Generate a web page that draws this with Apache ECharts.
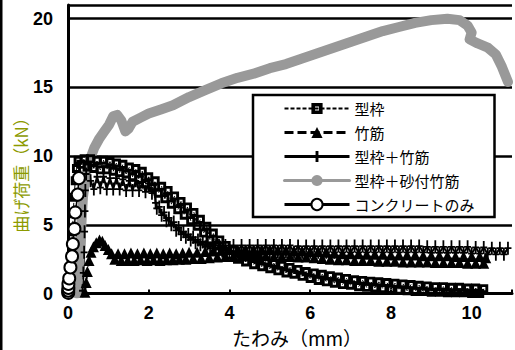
<!DOCTYPE html>
<html>
<head>
<meta charset="utf-8">
<script src="https://cdn.jsdelivr.net/npm/echarts@6.0.0/dist/echarts.min.js"></script>
<style>
  html, body { margin: 0; padding: 0; background: #fff; }
  #chart { width: 515px; height: 350px; }
</style>
</head>
<body>
<div id="chart"></div>
<script>
// Load–deflection curves of bending tests, [deflection (mm), load (kN)]
const seriesNames = ['型枠', '竹筋', '型枠＋竹筋', '型枠＋砂付竹筋', 'コンクリートのみ'];

const katawaku = [
  [0.03,0.2],[0.05,1.0],[0.07,2.0],[0.09,3.2],[0.11,4.5],[0.13,5.8],[0.15,7.0],[0.18,8.2],[0.21,9.1],[0.25,9.7],
  [0.32,9.4],[0.4,9.8],[0.48,9.2],[0.56,9.8],[0.64,9.1],[0.72,9.7],[0.8,9.0],[0.88,9.7],[0.96,9.0],[1.04,9.6],
  [1.12,8.9],[1.2,9.5],[1.28,8.8],[1.36,9.4],[1.44,8.7],[1.52,9.2],[1.6,8.5],[1.68,9.1],[1.76,8.3],[1.84,8.9],
  [1.92,8.0],[2.0,8.5],[2.08,7.7],[2.16,8.2],[2.24,7.3],[2.32,7.8],[2.4,6.9],[2.48,7.5],[2.56,6.5],[2.64,7.1],
  [2.72,6.1],[2.8,6.7],[2.88,5.7],[2.96,6.3],[3.04,5.3],[3.12,5.9],[3.2,4.9],[3.28,5.4],[3.36,4.4],[3.44,4.9],
  [3.52,3.9],[3.6,4.4],[3.68,3.5],[3.76,3.9],[3.84,3.1],[3.92,3.5],[4.0,2.8],[4.1,3.2],[4.2,2.5],[4.3,2.9],
  [4.4,2.3],[4.5,2.7],[4.6,2.1],[4.7,2.5],[4.8,1.95],[4.9,2.35],[5.0,1.8],[5.1,2.2],[5.2,1.65],[5.3,2.05],
  [5.4,1.5],[5.5,1.9],[5.6,1.4],[5.7,1.75],[5.8,1.25],[5.9,1.6],[6.0,1.1],[6.1,1.5],[6.2,0.95],[6.3,1.4],
  [6.4,0.85],[6.5,1.3],[6.6,0.75],[6.7,1.2],[6.8,0.65],[6.9,1.1],[7.0,0.6],[7.1,1.0],[7.2,0.5],[7.3,0.95],
  [7.4,0.45],[7.5,0.9],[7.6,0.4],[7.7,0.85],[7.8,0.35],[7.9,0.8],[8.0,0.3],[8.1,0.75],[8.2,0.25],[8.3,0.7],
  [8.4,0.2],[8.5,0.65],[8.6,0.15],[8.7,0.6],[8.8,0.15],[8.9,0.55],[9.0,0.1],[9.1,0.5],[9.2,0.1],[9.3,0.5],
  [9.4,0.05],[9.5,0.45],[9.6,0.05],[9.7,0.45],[9.8,0.05],[9.9,0.4],[10.0,0.0],[10.1,0.4],[10.2,0.0],[10.3,0.35]
];

const takekin = [
  [0.42,0.1],[0.45,0.8],[0.48,1.6],[0.52,2.4],[0.57,3.0],[0.63,3.4],[0.7,3.7],[0.78,3.9],[0.85,3.8],[0.92,3.5],
  [1.0,3.2],[1.08,2.9],[1.16,2.5],[1.24,2.9],[1.32,2.4],[1.4,2.9],[1.48,2.4],[1.56,2.95],[1.64,2.4],[1.72,2.9],
  [1.8,2.45],[1.88,2.95],[1.96,2.4],[2.04,2.9],[2.12,2.45],[2.2,2.95],[2.28,2.4],[2.36,2.9],[2.44,2.45],[2.52,2.95],
  [2.6,2.45],[2.68,2.9],[2.76,2.5],[2.84,2.95],[2.92,2.5],[3.0,3.0],[3.1,2.55],[3.2,3.0],[3.3,2.55],[3.4,3.05],
  [3.5,2.6],[3.6,3.1],[3.7,2.65],[3.8,3.15],[3.9,2.7],[4.0,3.2],[4.1,2.7],[4.2,3.2],[4.3,2.75],[4.4,3.2],
  [4.5,2.75],[4.6,3.2],[4.7,2.75],[4.8,3.2],[4.9,2.75],[5.0,3.2],[5.1,2.7],[5.2,3.15],[5.3,2.7],[5.4,3.15],
  [5.5,2.7],[5.6,3.1],[5.7,2.65],[5.8,3.1],[5.9,2.65],[6.0,3.05],[6.1,2.6],[6.2,3.05],[6.3,2.55],[6.4,3.0],
  [6.5,2.5],[6.6,2.95],[6.7,2.45],[6.8,2.9],[6.9,2.45],[7.0,2.9],[7.1,2.4],[7.2,2.9],[7.3,2.4],[7.4,2.85],
  [7.5,2.4],[7.6,2.85],[7.7,2.35],[7.8,2.85],[7.9,2.35],[8.0,2.8],[8.1,2.35],[8.2,2.8],[8.3,2.3],[8.4,2.8],
  [8.5,2.3],[8.6,2.8],[8.7,2.3],[8.8,2.75],[8.9,2.3],[9.0,2.75],[9.1,2.25],[9.2,2.75],[9.3,2.25],[9.4,2.75],
  [9.5,2.25],[9.6,2.7],[9.7,2.25],[9.8,2.7],[9.9,2.2],[10.0,2.7],[10.1,2.2],[10.2,2.7],[10.3,2.2],[10.35,2.6]
];

const katawakuTakekin = [
  [0.36,0.2],[0.38,1.5],[0.4,3.0],[0.41,4.5],[0.42,6.0],[0.43,7.5],[0.45,8.7],[0.5,9.5],
  [0.56,8.2],[0.64,7.6],[0.72,8.5],[0.8,7.7],[0.88,8.5],[0.96,7.6],[1.04,8.4],[1.12,7.6],[1.2,8.4],[1.28,7.6],
  [1.36,8.3],[1.44,7.5],[1.52,8.2],[1.6,7.5],[1.68,8.2],[1.76,7.5],[1.84,8.1],[1.92,7.4],[2.0,8.0],[2.08,7.3],
  [2.14,7.6],[2.17,6.6],[2.2,6.2],[2.26,6.3],[2.32,5.7],[2.38,5.9],[2.44,5.3],[2.5,5.5],[2.56,5.0],[2.62,5.2],
  [2.68,4.6],[2.74,4.8],[2.8,4.3],[2.86,4.5],[2.92,4.1],[2.98,4.3],[3.04,3.9],[3.1,4.1],[3.16,3.7],[3.22,3.9],
  [3.28,3.55],[3.34,3.75],[3.4,3.4],[3.46,3.6],[3.52,3.3],[3.58,3.55],[3.66,3.2],[3.74,3.5],[3.82,3.1],[3.9,3.5],
  [4.0,3.1],[4.1,3.5],[4.2,3.05],[4.3,3.5],[4.4,3.05],[4.5,3.5],[4.6,3.05],[4.7,3.5],[4.8,3.05],[4.9,3.5],
  [5.0,3.05],[5.1,3.5],[5.2,3.05],[5.3,3.5],[5.4,3.05],[5.5,3.5],[5.6,3.0],[5.7,3.45],[5.8,3.0],[5.9,3.45],
  [6.0,3.0],[6.1,3.45],[6.2,3.0],[6.3,3.45],[6.4,3.0],[6.5,3.45],[6.6,3.0],[6.7,3.45],[6.8,3.0],[6.9,3.45],
  [7.0,3.0],[7.1,3.45],[7.2,3.0],[7.3,3.45],[7.4,3.0],[7.5,3.45],[7.6,3.0],[7.7,3.45],[7.8,3.0],[7.9,3.45],
  [8.0,3.0],[8.1,3.45],[8.2,3.0],[8.3,3.45],[8.4,3.0],[8.5,3.45],[8.6,3.0],[8.7,3.45],[8.8,3.0],[8.9,3.4],
  [9.0,2.95],[9.1,3.4],[9.2,2.95],[9.3,3.4],[9.4,2.95],[9.5,3.4],[9.6,2.95],[9.7,3.4],[9.8,2.95],[9.9,3.4],
  [10.0,2.9],[10.1,3.35],[10.2,2.9],[10.3,3.35],[10.4,2.85],[10.5,3.3],[10.6,2.85],[10.7,3.3],[10.8,2.85],[10.9,3.3]
];

const katawakuSunaTakekin = [
  [0.22,0],[0.27,2.0],[0.32,4.5],[0.37,7.0],[0.45,8.8],[0.55,9.8],[0.65,10.6],[0.78,11.3],[0.9,11.8],[1.02,12.3],
  [1.12,12.9],[1.22,13.0],[1.32,12.6],[1.42,11.8],[1.5,12.0],[1.6,12.5],[1.8,12.8],[2.0,13.1],[2.3,13.4],[2.6,13.7],
  [3.0,14.3],[3.4,14.8],[3.8,15.3],[4.2,15.7],[4.6,16.0],[5.0,16.4],[5.4,16.7],[5.8,17.1],[6.2,17.5],[6.6,17.9],
  [7.0,18.3],[7.4,18.7],[7.8,19.1],[8.2,19.4],[8.6,19.7],[9.0,19.9],[9.4,20.0],[9.7,19.9],[9.9,19.5],[10.0,19.0],
  [9.95,18.5],[10.15,18.2],[10.4,17.9],[10.6,17.4],[10.75,16.5],[10.9,15.4]
];

const concreteOnly = [
  [0.005,0.05],[0.005,0.2],[0.01,0.4],[0.01,0.7],[0.03,1.1],[0.06,1.9],[0.1,2.7],[0.12,3.6],
  [0.16,4.7],[0.18,5.9],[0.24,7.2],[0.27,8.4]
];

const xRange = { min: 0, max: 11, interval: 2 };
const yRange = { min: 0, max: 21, interval: 5 };

// thick-rimmed hollow square and a tall plus for the dense marker bands
const squarePath = 'path://M0,0H9V9H0Z M2.9,2.9V6.1H6.1V2.9Z';
const plusPath = 'path://M2.6,0H4.4V13H2.6Z M0,5.6H7V7.4H0Z';
const tickFont = { fontFamily: '"Liberation Sans", Arial, sans-serif', fontWeight: 'bold', fontSize: 18, color: '#000' };

const chart = echarts.init(document.getElementById('chart'), null, { renderer: 'svg' });

chart.setOption({
  animation: false,
  backgroundColor: '#fff',
  grid: { left: 68, top: 5, width: 453, height: 288.5 },
  xAxis: {
    type: 'value',
    min: xRange.min, max: xRange.max, interval: xRange.interval,
    axisLine: { lineStyle: { color: '#000', width: 3 } },
    axisTick: { show: true, inside: true, length: 4, lineStyle: { color: '#000', width: 2 } },
    axisLabel: Object.assign({ margin: 10, formatter: v => (v % 2 === 0 ? String(v) : '') }, tickFont),
    splitLine: { show: false }
  },
  yAxis: {
    type: 'value',
    min: yRange.min, max: yRange.max, interval: yRange.interval,
    axisLine: { show: true, lineStyle: { color: '#000', width: 3 } },
    axisTick: { show: false },
    axisLabel: Object.assign({ margin: 15, formatter: v => (v % 5 === 0 ? String(v) : '') }, tickFont),
    splitLine: { show: true, lineStyle: { color: '#000', width: 2.5 } }
  },
  legend: {
    orient: 'vertical',
    left: 253, top: 95,
    padding: [6, 20, 5, 30],
    itemWidth: 65, itemHeight: 14, itemGap: 9,
    backgroundColor: '#fff',
    borderColor: '#000', borderWidth: 2.5, borderRadius: 0,
    selectedMode: false,
    textStyle: { fontFamily: '"Noto Sans CJK JP", sans-serif', fontSize: 15, lineHeight: 14, color: '#000' },
    data: [
      { name: seriesNames[0], lineStyle: { width: 2 } },
      { name: seriesNames[1], lineStyle: { width: 3 } },
      { name: seriesNames[2], lineStyle: { width: 3 } },
      { name: seriesNames[3], lineStyle: { width: 3 } },
      { name: seriesNames[4], lineStyle: { width: 3 } }
    ]
  },
  graphic: [
    { type: 'rect', shape: { x: 0, y: 0, width: 2.5, height: 350 }, style: { fill: '#000' } },
    {
      type: 'text', x: 20, y: 171, rotation: Math.PI / 2,
      style: { text: '曲げ荷重（kN）', fill: '#8c9a00', fontSize: 17,
               fontFamily: '"Noto Sans CJK JP", sans-serif', align: 'center', verticalAlign: 'middle' }
    },
    {
      type: 'text', x: 297, y: 337,
      style: { text: 'たわみ（mm）', fill: '#000', fontSize: 19,
               fontFamily: '"Noto Sans CJK JP", sans-serif', align: 'center', verticalAlign: 'middle' }
    }
  ],
  series: [
    {
      name: seriesNames[0], type: 'line', data: katawaku,
      symbol: squarePath, symbolSize: 9,
      itemStyle: { color: '#000' },
      lineStyle: { color: '#000', width: 1, type: [4, 2] }
    },
    {
      name: seriesNames[1], type: 'line', data: takekin,
      symbol: 'triangle', symbolSize: 11,
      itemStyle: { color: '#000' },
      lineStyle: { color: '#000', width: 2, type: [9, 4] }
    },
    {
      name: seriesNames[2], type: 'line', data: katawakuTakekin,
      symbol: plusPath, symbolSize: [7, 13],
      itemStyle: { color: '#000' },
      lineStyle: { color: '#000', width: 2 }
    },
    {
      name: seriesNames[3], type: 'line', data: katawakuSunaTakekin,
      symbol: 'none', showSymbol: false,
      itemStyle: { color: '#999' },
      lineStyle: { color: '#999', width: 10, cap: 'round', join: 'round' }
    },
    {
      name: seriesNames[4], type: 'line', data: concreteOnly,
      symbol: 'emptyCircle', symbolSize: 12,
      itemStyle: { color: '#000', borderColor: '#000', borderWidth: 2 },
      lineStyle: { color: '#000', width: 1.5 }
    }
  ]
});
</script>
</body>
</html>
